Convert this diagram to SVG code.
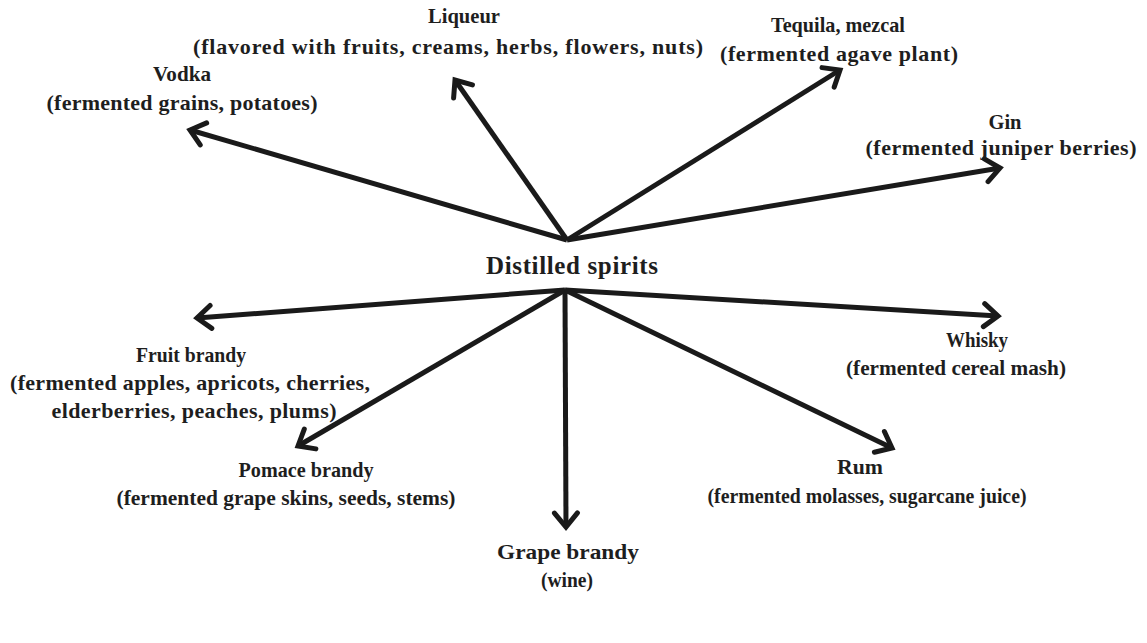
<svg xmlns="http://www.w3.org/2000/svg" width="1147" height="643" viewBox="0 0 1147 643">
<style>
text{font-family:"Liberation Serif","Times New Roman",serif;font-weight:bold;font-size:22px;fill:#1e1e1e;text-anchor:middle}
.hub{font-size:25px}
.c{stroke:#1a1a1a;stroke-width:5;fill:none;stroke-linecap:butt}
</style>
<defs>
<marker id="ah" viewBox="-17 -17 34 34" markerWidth="34" markerHeight="34" markerUnits="userSpaceOnUse" refX="0" refY="0" orient="auto">
<path d="M-14,-11.5 L0,0 L-14,11.5" fill="none" stroke="#1a1a1a" stroke-width="5" stroke-linejoin="miter" stroke-linecap="round"/>
</marker>
</defs>
<rect width="1147" height="643" fill="#ffffff"/>
<g id="connectors">
<line class="c" x1="567" y1="240" x2="190" y2="130" marker-end="url(#ah)"/>
<line class="c" x1="567" y1="240" x2="455" y2="80" marker-end="url(#ah)"/>
<line class="c" x1="567" y1="240" x2="840" y2="70" marker-end="url(#ah)"/>
<line class="c" x1="567" y1="240" x2="1000" y2="168" marker-end="url(#ah)"/>
<line class="c" x1="565" y1="290" x2="197" y2="318" marker-end="url(#ah)"/>
<line class="c" x1="565" y1="290" x2="998" y2="316" marker-end="url(#ah)"/>
<line class="c" x1="565" y1="290" x2="298" y2="446" marker-end="url(#ah)"/>
<line class="c" x1="565" y1="290" x2="566" y2="527" marker-end="url(#ah)"/>
<line class="c" x1="565" y1="290" x2="892" y2="448" marker-end="url(#ah)"/>
</g>
<g id="hub"><text class="hub" x="572" y="274" textLength="172" lengthAdjust="spacing">Distilled spirits</text></g>
<g id="liqueur">
<text x="464" y="23" textLength="72" lengthAdjust="spacingAndGlyphs">Liqueur</text>
<text x="448" y="54" textLength="510" lengthAdjust="spacing">(flavored with fruits, creams, herbs, flowers, nuts)</text>
</g>
<g id="vodka">
<text x="182" y="81" textLength="58" lengthAdjust="spacingAndGlyphs">Vodka</text>
<text x="182" y="110" textLength="271" lengthAdjust="spacing">(fermented grains, potatoes)</text>
</g>
<g id="tequila">
<text x="838" y="32" textLength="134" lengthAdjust="spacingAndGlyphs">Tequila, mezcal</text>
<text x="839" y="61" textLength="238" lengthAdjust="spacing">(fermented agave plant)</text>
</g>
<g id="gin">
<text x="1005" y="129" textLength="33" lengthAdjust="spacingAndGlyphs">Gin</text>
<text x="1001" y="155" textLength="271" lengthAdjust="spacing">(fermented juniper berries)</text>
</g>
<g id="fruit-brandy">
<text x="191" y="362" textLength="110" lengthAdjust="spacingAndGlyphs">Fruit brandy</text>
<text x="190" y="390" textLength="360" lengthAdjust="spacing">(fermented apples, apricots, cherries,</text>
<text x="194" y="418" textLength="285" lengthAdjust="spacing">elderberries, peaches, plums)</text>
</g>
<g id="whisky">
<text x="977" y="347" textLength="62" lengthAdjust="spacingAndGlyphs">Whisky</text>
<text x="956" y="375" textLength="220" lengthAdjust="spacingAndGlyphs">(fermented cereal mash)</text>
</g>
<g id="pomace-brandy">
<text x="306" y="477" textLength="135" lengthAdjust="spacingAndGlyphs">Pomace brandy</text>
<text x="286" y="505" textLength="339" lengthAdjust="spacingAndGlyphs">(fermented grape skins, seeds, stems)</text>
</g>
<g id="grape-brandy">
<text x="568" y="559" textLength="142" lengthAdjust="spacingAndGlyphs">Grape brandy</text>
<text x="567" y="587" textLength="52" lengthAdjust="spacingAndGlyphs">(wine)</text>
</g>
<g id="rum">
<text x="860" y="474" textLength="46" lengthAdjust="spacingAndGlyphs">Rum</text>
<text x="867" y="503" textLength="319" lengthAdjust="spacingAndGlyphs">(fermented molasses, sugarcane juice)</text>
</g>
</svg>
